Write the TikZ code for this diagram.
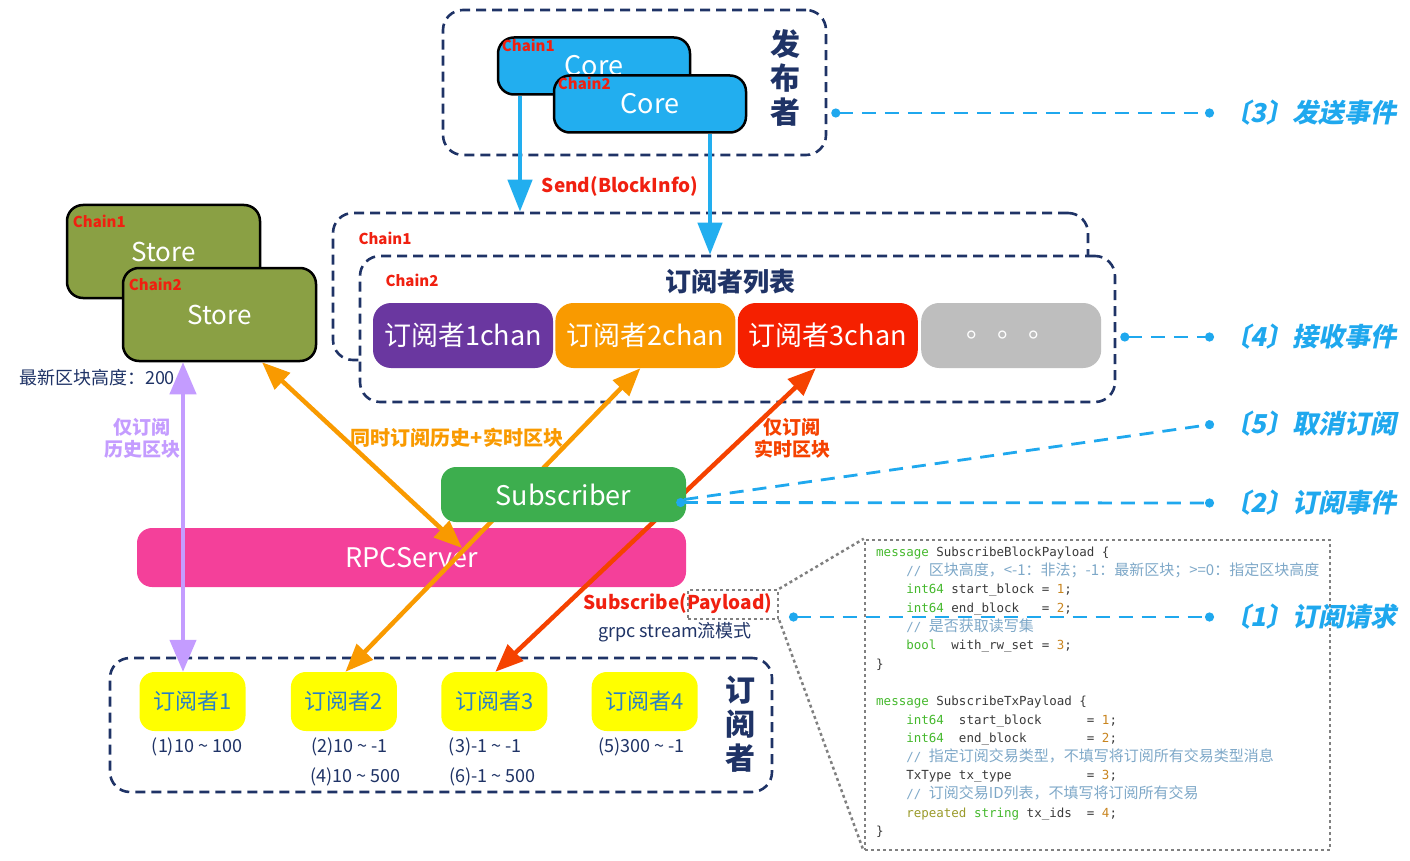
\documentclass[tikz,border=0pt]{standalone}
\usepackage{fontspec}
\setmainfont{Noto Sans CJK SC}
\setmonofont{DejaVu Sans Mono}
\newfontfamily\cjk{Noto Sans CJK SC}
\newfontfamily\evfont{Noto Sans CJK SC}[FakeSlant=0.2]
\usetikzlibrary{positioning,arrows.meta,calc}
\definecolor{navy}{HTML}{1F3366}
\definecolor{coreblue}{HTML}{22AEEF}
\definecolor{arrowblue}{HTML}{22AEEF}
\definecolor{storegreen}{HTML}{8AA044}
\definecolor{chainred}{HTML}{F02010}
\definecolor{chanpurple}{HTML}{6A37A0}
\definecolor{chanorange}{HTML}{F99A00}
\definecolor{chanred}{HTML}{F52000}
\definecolor{changray}{HTML}{BEBEBE}
\definecolor{subgreen}{HTML}{3DAE4E}
\definecolor{rpcpink}{HTML}{F4409A}
\definecolor{subyellow}{HTML}{FFFF00}
\definecolor{subblue}{HTML}{2A7FC4}
\definecolor{histviolet}{HTML}{C49CFF}
\definecolor{liveorange}{HTML}{F54200}
\definecolor{evblue}{HTML}{1FA8EE}
\definecolor{dotgray}{HTML}{808080}
\definecolor{codegreen}{HTML}{44B82C}
\definecolor{codeolive}{HTML}{9A9A2A}
\definecolor{codecmt}{HTML}{7EA8C8}
\definecolor{codenum}{HTML}{C8841E}
\definecolor{codetext}{HTML}{3A3A3A}
\newcommand{\kw}[1]{\textcolor{codegreen}{#1}}
\newcommand{\cnum}[1]{\textcolor{codenum}{#1}}
\newcommand{\cmt}[1]{\textcolor{codecmt}{//~{\cjk\fontsize{15}{18.6}\selectfont #1}}}
\newcommand{\codeind}{\phantom{xxxx}}

\begin{document}
\begin{tikzpicture}[x=1pt,y=-1pt,font=\fontsize{18}{22}\selectfont]
\tikzstyle{groupbox}=[draw=navy,line width=2.6pt,dash pattern=on 10pt off 6pt,rounded corners=20pt,fill=white]
\tikzstyle{corebox}=[draw=black,line width=2.5pt,rounded corners=16pt,fill=coreblue,text=white,font=\fontsize{27}{30}\selectfont,minimum width=192pt,minimum height=57pt]
\tikzstyle{storebox}=[draw=black,line width=2.5pt,rounded corners=16pt,fill=storegreen,text=white,font=\fontsize{26}{30}\selectfont,minimum width=193pt,minimum height=93pt]
\tikzstyle{chainlbl}=[text=chainred,font=\bfseries\fontsize{15}{17}\selectfont,inner sep=1pt]
\tikzstyle{chanbox}=[rounded corners=18pt,text=white,font=\fontsize{27}{30}\selectfont,minimum width=180pt,minimum height=65pt,inner sep=0pt]
\tikzstyle{subbox}=[rounded corners=15pt,fill=subyellow,text=subblue,font=\fontsize{22}{26}\selectfont,minimum width=106pt,minimum height=59pt,inner sep=0pt]
\tikzstyle{rangelbl}=[text=navy,font=\fontsize{18}{20}\selectfont,inner sep=1pt]
\tikzstyle{taglbl}=[font=\bfseries\fontsize{19}{22}\selectfont,align=center,inner sep=1pt]
\tikzstyle{vertlbl}=[text=navy,font=\bfseries\fontsize{30}{34}\selectfont,align=center,inner sep=0pt]
\tikzstyle{flowline}=[line width=4.5pt]
\tikzstyle{evlbl}=[text=evblue,font=\evfont\bfseries\fontsize{26}{30}\selectfont,anchor=west,inner sep=0pt]
\tikzstyle{evline}=[draw=evblue,line width=2.8pt,dash pattern=on 14pt off 9pt]
\tikzstyle{dotbox}=[draw=dotgray,line width=2.5pt,dash pattern=on 3pt off 3pt]

\useasboundingbox (0,0) rectangle (1410,861);

\node[groupbox,minimum width=383pt,minimum height=145pt] (pub) at (634.5,82.5) {};
\node[vertlbl] (pubtxt) at (785,78) {发\\布\\者};
\node[corebox] (core1) at (594,66) {Core};
\node[chainlbl,anchor=north west] (core1c) at ([xshift=4pt,yshift=-2pt]core1.north west) {Chain1};
\node[corebox] (core2) at (650,104) {Core};
\node[chainlbl,anchor=north west] (core2c) at ([xshift=4pt,yshift=-2pt]core2.north west) {Chain2};

\node[groupbox,minimum width=755pt,minimum height=147pt] (chain1) at (710.5,286.5) {};
\node[chainlbl] (chain1c) at (385,238) {Chain1};
\node[groupbox,minimum width=755pt,minimum height=146pt] (chain2) at (737.5,329) {};
\node[chainlbl] (chain2c) at (412,280) {Chain2};
\node[text=navy,font=\bfseries\fontsize{26}{30}\selectfont] (listtitle) at (730,282) {订阅者列表};
\node[chanbox,fill=chanpurple] (chan1) at (463,335.5) {订阅者1chan};
\node[chanbox,fill=chanorange,right=2pt of chan1] (chan2) {订阅者2chan};
\node[chanbox,fill=chanred,right=2pt of chan2] (chan3) {订阅者3chan};
\node[chanbox,fill=changray,right=3pt of chan3] (chan4) {。\hspace{4pt}。\hspace{4pt}。};

\node[storebox] (store1) at (163.5,251.5) {Store};
\node[chainlbl,anchor=north west] (store1c) at ([xshift=6pt,yshift=-10pt]store1.north west) {Chain1};
\node[storebox] (store2) at (219.5,314.5) {Store};
\node[chainlbl,anchor=north west] (store2c) at ([xshift=6pt,yshift=-10pt]store2.north west) {Chain2};
\node[text=navy] (height) at (97,378) {最新区块高度：200};

\node[groupbox,minimum width=662pt,minimum height=134pt] (subs) at (441,725) {};
\node[vertlbl] (substxt) at (740,724) {订\\阅\\者};
\node[subbox] (sub1) at (192.5,701.5) {订阅者1};
\node[subbox,right=45pt of sub1] (sub2) {订阅者2};
\node[subbox,right=44pt of sub2] (sub3) {订阅者3};
\node[subbox,right=44pt of sub3] (sub4) {订阅者4};
\node[rangelbl,below=5pt of sub1,xshift=4.5pt] (r1) {(1)10 \textasciitilde{} 100};
\node[rangelbl,below=5pt of sub2,xshift=5.5pt] (r2) {(2)10 \textasciitilde{} -1};
\node[rangelbl,below=10pt of r2,xshift=6pt] (r4) {(4)10 \textasciitilde{} 500};
\node[rangelbl,below=5pt of sub3,xshift=-9pt] (r3) {(3)-1 \textasciitilde{} -1};
\node[rangelbl,below=10pt of r3,xshift=7pt] (r6) {(6)-1 \textasciitilde{} 500};
\node[rangelbl,below=5pt of sub4,xshift=-3pt] (r5) {(5)300 \textasciitilde{} -1};

\node[fill=rpcpink,rounded corners=15pt,text=white,font=\fontsize{27}{30}\selectfont,minimum width=549pt,minimum height=59pt] (rpc) at (411.5,557.5) {RPCServer};
\coordinate (rpcin) at (462,548);

\node[dotbox,minimum width=465pt,minimum height=310pt] (code) at (1097.5,695) {};
\node[anchor=north west,align=left,inner sep=0pt,text=codetext,font=\ttfamily\fontsize{12.5}{18.6}\selectfont] (codetxt) at (876,547) {%
\kw{message} SubscribeBlockPayload \{\\
\codeind\cmt{区块高度，<-1：非法；-1：最新区块；>=0：指定区块高度}\\
\codeind\kw{int64} start\_block = \cnum{1};\\
\codeind\kw{int64} end\_block~~~= \cnum{2};\\
\codeind\cmt{是否获取读写集}\\
\codeind\kw{bool}~~with\_rw\_set = \cnum{3};\\
\}\\[18.6pt]
\kw{message} SubscribeTxPayload \{\\
\codeind\kw{int64}~~start\_block~~~~~~= \cnum{1};\\
\codeind\kw{int64}~~end\_block~~~~~~~~= \cnum{2};\\
\codeind\cmt{指定订阅交易类型，不填写将订阅所有交易类型消息}\\
\codeind TxType tx\_type~~~~~~~~~~= \cnum{3};\\
\codeind\cmt{订阅交易ID列表，不填写将订阅所有交易}\\
\codeind\textcolor{codeolive}{repeated} \kw{string} tx\_ids~~= \cnum{4};\\
\}};

\node[text=chainred,font=\bfseries\fontsize{19}{22}\selectfont] (subcall) at (678,604) {Subscribe(Payload)};
\node[dotbox,minimum width=90pt,minimum height=29pt] (paybox) at (733,604.5) {};
\node[text=navy] (grpc) at (675,632) {grpc stream流模式};
\draw[dotbox] (paybox.north east) -- (code.north west);
\draw[dotbox] (paybox.south east) -- (code.south west);

\draw[flowline,draw=arrowblue,-{Triangle[length=32pt,width=24pt]}] ([xshift=-74pt]core1.south) -- ([xshift=-190.5pt]chain1.north);
\draw[flowline,draw=arrowblue,-{Triangle[length=32pt,width=24pt]}] ([xshift=60pt]core2.south) -- ([xshift=-27.5pt]chain2.north);
\node[text=chainred,font=\bfseries\fontsize{19}{22}\selectfont] (send) at (620,186) {Send(BlockInfo)};

\draw[flowline,draw=histviolet,{Triangle[length=32pt,width=26pt]}-{Triangle[length=32pt,width=26pt]}] ([xshift=-36.5pt]store2.south) -- ([xshift=-9.5pt]sub1.north);
\draw[flowline,draw=chanorange,{Triangle[length=28pt,width=22pt]}-{Triangle[length=28pt,width=22pt]}] ([xshift=42.5pt]store2.south) -- (rpcin);
\draw[flowline,draw=chanorange,{Triangle[length=28pt,width=22pt]}-{Triangle[length=28pt,width=22pt]}] ([xshift=-5pt]chan2.south) -- ([xshift=1.5pt]sub2.north);
\draw[flowline,draw=liveorange,{Triangle[length=28pt,width=22pt]}-{Triangle[length=28pt,width=22pt]}] ([xshift=-12pt]chan3.south) -- ([xshift=1pt]sub3.north);

\node[taglbl,text=histviolet] (histtag) at (142,438) {仅订阅\\历史区块};
\node[taglbl,text=chanorange,font=\bfseries\fontsize{20}{22}\selectfont] (bothtag) at (457,438) {同时订阅历史+实时区块};
\node[taglbl,text=liveorange] (livetag) at (792,438) {仅订阅\\实时区块};

\node[fill=subgreen,rounded corners=15pt,text=white,font=\fontsize{27}{30}\selectfont,minimum width=245pt,minimum height=55pt] (subscriber) at (563.5,494.5) {Subscriber};
\coordinate (subdot) at ($(subscriber.east)+(-10,8)$);
\coordinate (reqdot) at (789,617);

\node[evlbl] (ev3) at (1224,113) {〔3〕发送事件};
\node[evlbl] (ev4) at (1224,337) {〔4〕接收事件};
\node[evlbl] (ev5) at (1224,424) {〔5〕取消订阅};
\node[evlbl] (ev2) at (1224,503) {〔2〕订阅事件};
\node[evlbl] (ev1) at (1224,617) {〔1〕订阅请求};
\draw[evline,{Circle[length=9pt]}-{Circle[length=9pt]}] ([xshift=4pt]pub.east |- ev3.west) -- ([xshift=-10pt]ev3.west);
\draw[evline,{Circle[length=9pt]}-{Circle[length=9pt]}] ([xshift=4pt]chain2.east |- ev4.west) -- ([xshift=-10pt]ev4.west);
\draw[evline,-{Circle[length=9pt]}] ([xshift=8pt,yshift=3pt]subdot) -- ([xshift=-10pt]ev5.west);
\draw[evline,{Circle[length=9pt]}-{Circle[length=9pt]}] (subdot) -- ([xshift=-10pt]ev2.west);
\draw[evline,{Circle[length=9pt]}-{Circle[length=9pt]}] (reqdot) -- ([xshift=-10pt]ev1.west);
\end{tikzpicture}
\end{document}
